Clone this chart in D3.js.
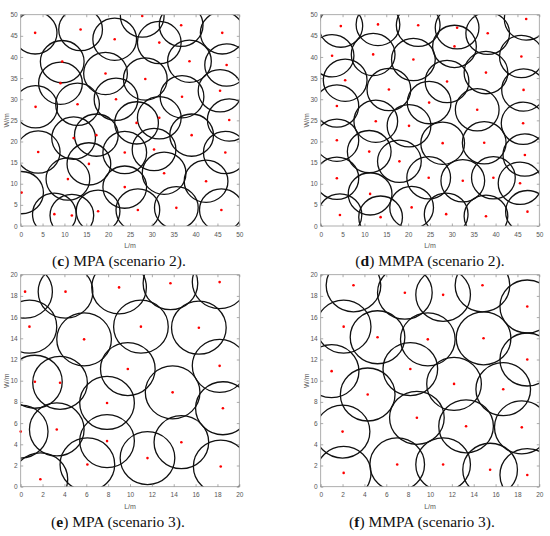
<!DOCTYPE html>
<html>
<head>
<meta charset="utf-8">
<script src="https://cdn.jsdelivr.net/npm/d3@7/dist/d3.min.js"></script>
<style>
  body { margin: 0; background: #fff; }
  svg { display: block; }
</style>
</head>
<body>
<svg width="550" height="536"></svg>
<script>
// node positions [L, W] in metres
const mpaScenario2 = [
  [3.3, 45.7], [13.7, 46.5], [21.5, 44.2], [9.5, 38.9], [19.4, 36.1], [9.1, 33.8], [21.8, 30.0],
  [3.4, 28.2], [13.0, 28.8], [26.5, 24.4], [27.8, 49.7], [36.7, 47.5], [46.1, 45.7], [31.7, 43.4],
  [38.6, 39.0], [47.1, 38.1], [28.5, 34.8], [45.6, 32.0], [36.9, 30.6], [31.7, 25.6], [47.7, 25.1],
  [12.1, 20.8], [17.3, 21.5], [4.0, 17.5], [23.8, 17.4], [15.6, 14.7], [10.8, 11.1], [0.2, 7.9],
  [23.8, 9.2], [7.7, 2.8], [11.7, 2.5], [17.7, 3.5], [26.8, 3.8], [39.1, 21.5], [30.5, 18.1],
  [46.8, 17.4], [32.8, 12.5], [42.4, 10.6], [35.6, 4.3], [45.9, 3.8]
]
const mmpaScenario2 = [
  [4.6, 47.3], [13.1, 47.7], [22.3, 47.5], [2.6, 40.3], [12.0, 40.6], [21.2, 39.4], [5.6, 34.5],
  [15.6, 32.3], [3.7, 28.4], [12.6, 24.8], [20.2, 23.7], [31.2, 46.9], [30.6, 42.5], [38.2, 45.6],
  [47.0, 49.0], [45.9, 40.1], [37.8, 36.3], [28.9, 34.2], [46.4, 32.2], [24.8, 29.2], [35.8, 27.5],
  [46.3, 24.3], [3.7, 20.3], [11.1, 17.6], [18.0, 15.3], [3.7, 11.3], [11.3, 7.6], [4.4, 2.6],
  [13.7, 2.1], [20.8, 4.4], [27.9, 19.6], [37.4, 19.7], [46.7, 16.8], [24.7, 11.4], [32.5, 10.7],
  [39.5, 11.4], [45.6, 10.1], [28.7, 2.8], [37.8, 2.3], [47.3, 3.4]
]
const mpaScenario3 = [
  [0.4, 18.4], [4.1, 18.4], [9.0, 18.8], [13.7, 19.2], [18.2, 19.3], [0.8, 15.1], [5.8, 13.9],
  [11.0, 15.1], [16.3, 15.0], [9.8, 11.1], [18.2, 11.4], [1.3, 9.9], [3.6, 9.8], [7.9, 7.9],
  [13.9, 8.9], [18.5, 7.4], [0.0, 5.2], [3.3, 5.4], [7.9, 4.3], [14.7, 4.2], [11.6, 2.7],
  [6.1, 2.1], [18.3, 1.9], [1.8, 0.7]
]
const mmpaScenario3 = [
  [3.0, 19.0], [7.7, 18.3], [11.2, 18.1], [14.8, 19.0], [18.9, 17.0], [2.1, 15.1], [5.2, 14.1],
  [9.8, 13.9], [14.9, 14.0], [18.9, 12.0], [1.0, 10.9], [8.2, 11.1], [12.2, 9.7], [16.7, 9.2],
  [4.3, 8.7], [8.8, 6.5], [2.0, 5.2], [13.3, 5.7], [18.4, 5.6], [7.0, 2.1], [11.2, 2.1],
  [2.1, 1.3], [15.5, 1.6], [18.9, 1.1]
]

// sensing radius (m)
const radiusScenario2 = 5
const radiusScenario3 = 2.5

const ticksScenario2 = [0, 5, 10, 15, 20, 25, 30, 35, 40, 45, 50]
const ticksScenario3 = [0, 2, 4, 6, 8, 10, 12, 14, 16, 18, 20]

const captionLetters = ['c', 'd', 'e', 'f']
const captionTexts = [' MPA (scenario 2).', ' MMPA (scenario 2).', ' MPA (scenario 3).', ' MMPA (scenario 3).']

let svg = d3.select('svg')

const panels = [
  { nodes: mpaScenario2, r: radiusScenario2, ticks: ticksScenario2, x0: 20.7, x1: 239.3, y0: 226, y1: 14.7, cx: 119, cy: 266 },
  { nodes: mmpaScenario2, r: radiusScenario2, ticks: ticksScenario2, x0: 320.7, x1: 539.3, y0: 226, y1: 14.7, cx: 430, cy: 266 },
  { nodes: mpaScenario3, r: radiusScenario3, ticks: ticksScenario3, x0: 20.7, x1: 239.3, y0: 486.7, y1: 274.7, cx: 118, cy: 526.5 },
  { nodes: mmpaScenario3, r: radiusScenario3, ticks: ticksScenario3, x0: 320.7, x1: 539.3, y0: 486.7, y1: 274.7, cx: 422, cy: 526.5 }
]

const tickFont = g => {
  g.selectAll('text')
    .attr('font-family', '"Liberation Sans", Arial, sans-serif')
    .attr('font-size', 6.5)
    .attr('fill', '#555')
  g.selectAll('line').attr('stroke', '#888').attr('stroke-width', 0.7)
  g.select('.domain').remove()
}

panels.forEach((p, i) => {
  const max = p.ticks[p.ticks.length - 1]
  const x = d3.scaleLinear().domain([0, max]).range([p.x0, p.x1])
  const y = d3.scaleLinear().domain([0, max]).range([p.y0, p.y1])
  const g = svg.append('g')

  // clip circles to the axes box, like matlab does
  g.append('clipPath')
    .attr('id', 'clip' + i)
    .append('rect')
    .attr('x', p.x0)
    .attr('y', p.y1)
    .attr('width', p.x1 - p.x0)
    .attr('height', p.y0 - p.y1)

  // coverage circles
  g.append('g')
    .attr('clip-path', `url(#clip${i})`)
    .selectAll('ellipse')
    .data(p.nodes)
    .enter()
    .append('ellipse')
    .attr('cx', d => x(d[0]))
    .attr('cy', d => y(d[1]))
    .attr('rx', x(p.r) - x(0))
    .attr('ry', y(0) - y(p.r))
    .attr('fill', 'none')
    .attr('stroke', '#111')
    .attr('stroke-width', 1.3)

  // node markers
  g.append('g')
    .selectAll('circle')
    .data(p.nodes)
    .enter()
    .append('circle')
    .attr('cx', d => x(d[0]))
    .attr('cy', d => y(d[1]))
    .attr('r', 1.3)
    .attr('fill', '#f00')

  // box
  g.append('rect')
    .attr('x', p.x0)
    .attr('y', p.y1)
    .attr('width', p.x1 - p.x0)
    .attr('height', p.y0 - p.y1)
    .attr('fill', 'none')
    .attr('stroke', '#999')
    .attr('stroke-width', 0.8)

  // axes, ticks pointing inwards on all four sides
  g.append('g')
    .attr('transform', `translate(0,${p.y0})`)
    .call(d3.axisBottom(x).tickValues(p.ticks).tickSize(-2.5).tickPadding(6))
    .call(tickFont)
  g.append('g')
    .attr('transform', `translate(0,${p.y1})`)
    .call(d3.axisTop(x).tickValues(p.ticks).tickSize(-2.5).tickFormat(''))
    .call(tickFont)
  g.append('g')
    .attr('transform', `translate(${p.x0},0)`)
    .call(d3.axisLeft(y).tickValues(p.ticks).tickSize(-2.5).tickPadding(3))
    .call(tickFont)
  g.append('g')
    .attr('transform', `translate(${p.x1},0)`)
    .call(d3.axisRight(y).tickValues(p.ticks).tickSize(-2.5).tickFormat(''))
    .call(tickFont)

  // axis titles
  g.append('text')
    .attr('x', (p.x0 + p.x1) / 2)
    .attr('y', p.y0 + 22)
    .attr('text-anchor', 'middle')
    .attr('font-family', '"Liberation Sans", Arial, sans-serif')
    .attr('font-size', 7)
    .attr('fill', '#555')
    .text('L/m')
  g.append('text')
    .attr('transform', `translate(${p.x0 - 12},${(p.y0 + p.y1) / 2}) rotate(-90)`)
    .attr('text-anchor', 'middle')
    .attr('font-family', '"Liberation Sans", Arial, sans-serif')
    .attr('font-size', 7)
    .attr('fill', '#555')
    .text('W/m')

  // caption
  let cap = g.append('text')
    .attr('x', p.cx)
    .attr('y', p.cy)
    .attr('text-anchor', 'middle')
    .attr('font-family', '"Liberation Serif", "DejaVu Serif", serif')
    .attr('font-size', 15.5)
    .attr('fill', '#111')
  cap.append('tspan').text('(')
  cap.append('tspan').attr('font-weight', 'bold').text(captionLetters[i])
  cap.append('tspan').text(')' + captionTexts[i])
})
</script>
</body>
</html>
